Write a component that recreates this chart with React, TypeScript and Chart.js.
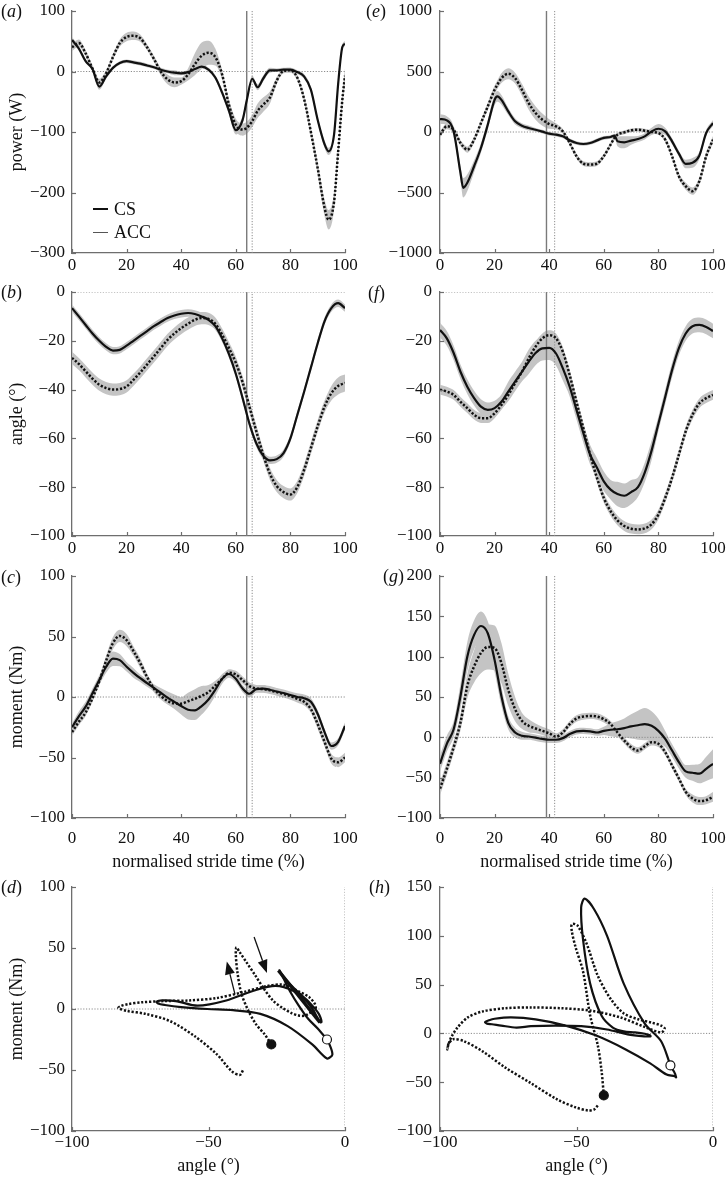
import React, { useEffect, useRef } from 'react';
import { Chart, registerables } from 'chart.js';
Chart.register(...registerables);

const FONT = "'Liberation Serif', 'Times New Roman', serif";
const BAND = '#c4c4c4';
const INK = '#111111';

// ---------- common time grid (normalised stride time, %) ----------
const T = [0,2.5,5,7.5,10,12.5,15,17.5,20,22.5,25,27.5,30,32.5,35,37.5,40,42.5,45,47.5,50,52.5,55,57.5,60,62.5,65,67.5,70,72.5,75,77.5,80,82.5,85,87.5,90,92.5,95,97.5,100];
const TIME_TICKS = [0,20,40,60,80,100];

// ---------- (a) power, left ----------
const A_X = [0,2.5,5,7.5,10,12.5,15,17.5,20,22.5,25,27.5,30,32.5,35,37.5,40,42.5,45,47.5,50,52.5,55,57.5,60,62.5,64,66,68,70,72.5,75,77.5,80,82.5,85,87.5,90,92.5,94,96,97.5,99,100];
const A_CS = [52,38,17,4,-25,-8,6,14,17,15,13,10,7,3,0,-2,-3,-1,4,8,3,-10,-35,-65,-97,-80,-48,-12,-26,-12,2,2,3,3,-1,-8,-30,-80,-120,-132,-104,-20,40,46];
const A_ACC = [40,47,30,5,-18,-3,24,47,57,59,55,40,21,0,-13,-18,-16,-5,12,26,31,24,-5,-55,-88,-96,-93,-82,-65,-55,-43,-15,1,2,-10,-45,-100,-160,-225,-245,-215,-132,-48,-7];
const A_CS_SD = [5,4,3,3,5,4,3,3,3,3,3,3,3,3,3,4,3,3,3,3,3,4,5,6,7,7,6,5,5,5,4,3,3,3,3,4,5,5,6,6,6,5,5,4];
const A_ACC_SD = [6,6,5,5,6,5,5,6,7,7,6,5,5,6,8,8,6,10,18,22,20,14,8,8,10,10,10,10,12,12,10,6,4,4,5,6,8,10,14,16,14,12,12,12];
const A_YTICKS = [-300,-200,-100,0,100];

// ---------- (b) angle, left ----------
const B_CS = [-6.6,-10,-13.5,-17,-20,-22.5,-24,-23.7,-22,-20,-18,-16,-14,-12.3,-10.7,-9.6,-8.9,-8.6,-9,-10,-11.4,-14,-19,-25.5,-33.5,-43.5,-54,-62,-67,-69,-68.5,-66,-60,-50.5,-41,-31,-21,-12,-6.6,-4.6,-6.6];
const B_ACC = [-27,-29.5,-32.5,-35.5,-38,-39.4,-40,-39.8,-38.7,-36,-33,-29.7,-26.4,-23,-19.6,-17,-14.8,-13,-11.4,-10.7,-11,-13,-17.5,-23,-29,-37,-47,-57,-66.5,-74.5,-79.5,-82,-83,-80,-73,-64,-55,-47,-41.5,-38.5,-37.3];
const B_CS_SD = [1.5,1.5,1.5,1.5,1.5,1.5,1.5,1.5,1.5,1.5,1.5,1.5,1.5,1.5,1.5,1.5,1.5,1.5,1.5,1.5,1.5,1.5,1.5,1.5,1.5,1.5,1.5,1.5,1.5,1.5,1.5,1.5,1.5,1.5,1.5,1.5,1.5,1.5,1.5,1.5,1.5];
const B_ACC_SD = [2.5,2.5,2.5,2.5,2.5,2.5,2.5,2.5,2.5,2.5,2.5,2.5,2.5,2.5,2.5,2.5,2.5,2.5,2.5,2.5,2.5,2.5,2.5,2.5,2.5,2.5,2.5,2.5,2.5,2.5,2.5,2.5,2.5,2.5,2.5,2.5,2.5,2.5,3,3.5,3.5];
const ANGLE_YTICKS = [-100,-80,-60,-40,-20,0];

// ---------- (c) moment, left ----------
const C_CS = [-25,-16,-8,3,14,25,31.7,30.5,25,20,15.5,11.5,7.5,3.5,-0.5,-4,-7.5,-10.5,-11,-7.5,-2,6,15,19,15,7,2.7,6.5,7,6,4.5,3.3,1.6,0,-1,-4,-14,-29,-40.5,-37,-24];
const C_ACC = [-29,-20.5,-12.8,-1,13,30,44.5,50.5,47,38,28,16.5,7,1,-3.3,-5.3,-5.5,-3.5,-1.5,1,4,9.5,15,20,18.6,14,9,7,6.5,5.5,4,2.5,0.8,-1.5,-4,-10,-22.4,-37,-51,-54,-50];
const C_CS_SD = [3,4,4,4,4,5,6,5,4,4,3,3,3,4,5,6,7,8,8,7,6,5,4,3,3,3,3,3,3,3,3,3,3,3,3,3,3,3,3,3,3];
const C_ACC_SD = [3,3,3,3,3,4,5,5,5,4,4,3,3,3,3,4,5,7,8,8,6,4,3,3,3,3,3,3,3,3,3,3,3,3,3,3,4,4,4,4,4];
const C_YTICKS = [-100,-50,0,50,100];

// ---------- (e) power, right ----------
const E_X = [0,2.5,5,7.5,8.5,10,12.5,15,17.5,20,21,22.5,25,27.5,30,32.5,35,37.5,40,42.5,45,47.5,50,52.5,55,57.5,60,62.5,64,65,67.5,70,72.5,75,77.5,80,82.5,85,87.5,90,92.5,95,97.5,100];
const E_CS = [107,96,5,-338,-461,-420,-283,-132,60,266,294,266,170,88,52,33,19,3,-14,-22,-36,-69,-91,-99,-91,-69,-49,-41,-30,-77,-85,-71,-58,-36,5,27,5,-77,-179,-264,-255,-195,-8,74];
const E_ACC = [-22,47,19,-91,-120,-146,-63,74,212,349,390,445,481,445,349,239,157,102,66,47,5,-91,-200,-261,-269,-261,-200,-104,-45,-22,-3,14,19,11,0,-8,-63,-200,-365,-448,-489,-407,-200,-63];
const E_CS_SD = [40,35,40,60,80,70,50,40,40,45,45,40,30,25,20,20,15,15,15,15,15,15,15,15,15,15,15,15,15,40,50,35,25,25,30,40,30,25,25,35,40,30,25,25];
const E_ACC_SD = [25,25,25,25,25,25,25,25,30,35,35,40,45,45,50,55,55,50,40,25,20,20,20,20,20,20,20,20,20,15,15,15,15,15,15,15,20,20,25,30,30,30,30,30];
const E_YTICKS = [-1000,-500,0,500,1000];

// ---------- (f) angle, right ----------
const F_CS = [-15.6,-19,-25,-32.7,-38.8,-43.5,-47,-48.3,-47.6,-45,-40.8,-36.7,-32.7,-28.6,-25,-23.1,-22.9,-25.2,-31.3,-38.8,-48.3,-57.8,-66.7,-72,-77.6,-81,-82.8,-83.5,-82,-80,-74,-65,-54,-43,-32,-23,-17,-14,-13.5,-14.3,-16];
const F_ACC = [-40,-40.8,-42.2,-45,-47.6,-50.3,-51.7,-51.7,-49.7,-46.3,-42.2,-37.4,-32.7,-27.2,-22.4,-19,-17.7,-19,-24.5,-34,-45,-55.8,-66.7,-76.2,-84.4,-89.8,-93.6,-95.9,-97,-97.3,-96.9,-95.2,-91.2,-84.4,-76.2,-66.7,-57.1,-50.3,-45.6,-43.5,-42.2];
const F_CS_SD = [3,3,3,3,3,3,3,3,3,3,4,4,4,5,5,5,5,5,5,4,4,4,4,4,4,4,5,5,5,4,4,4,3,3,3,3,3,3,3,3,3];
const F_ACC_SD = [2,2,2,2,2,2,2,2,2,2,2,2,2,2,2,2,2,2,2,2,2,2,2,2,2,2,2,2,2,2,2,2,2,2,2,2,2,2,2,2,2];

// ---------- (g) moment, right ----------
const G_CS = [-32.8,-8,10,51,100,127,138,129,96,51,18,6,2,1,-0.4,-2,-3,-3,-1,4,7.4,8,7.4,6,8,9.4,10,11.5,13.5,15,16.4,14.3,8,-2,-16.4,-30.7,-42.2,-43.9,-45,-39,-32.8];
const G_ACC = [-63.5,-39,-12.3,18.4,63.5,88,104.5,112,110.7,92,59,35,20.5,14.3,11,8,5,1,6,16.4,23.4,25.8,26.6,25.8,22.5,16.4,6,-4,-12.3,-16.4,-11,-6,-8,-18.4,-34.8,-51,-67.6,-75.8,-79,-77.9,-73.8];
const G_CS_SD = [10,10,10,15,18,18,18,15,15,12,8,6,5,4,4,4,4,4,4,4,4,4,4,4,5,8,10,12,15,18,20,18,15,10,8,8,8,10,12,15,18];
const G_ACC_SD = [8,8,8,10,15,20,25,28,28,25,20,15,10,8,6,5,5,4,4,4,4,4,4,4,4,4,4,4,4,4,4,4,4,4,4,4,4,5,5,5,6];
const G_YTICKS = [-100,-50,0,50,100,150,200];

// ---------- event lines ----------
const LEFT_EVENTS = [64, 66];   // CS (solid), ACC (dotted)
const RIGHT_EVENTS = [39, 42];

// ---------- (d) / (h) loop annotations ----------
const LOOP_XTICKS = [-100,-50,0];
const D_YTICKS = [-100,-50,0,50,100];
const H_YTICKS = [-100,-50,0,50,100,150];
const D_THICK_X = [-24.4,-9.2];
const D_THICK_Y = [31.6,-11];
const D_ARROWS = [
  { from: [-40.3, 12], to: [-43.3, 39] },
  { from: [-33.3, 59], to: [-28.6, 29.5] },
];

// ---------- helpers ----------
type XY = { x: number; y: number };
const pts = (xs: number[], ys: number[]): XY[] => xs.map((x, i) => ({ x, y: ys[i] }));
const offs = (ys: number[], sd: number[], s: number) => ys.map((v, i) => v + s * sd[i]);
const fmt = (v: any) => { const n = Number(v); return n < 0 ? '\u2212' + Math.abs(n) : String(n); };

function band(xs: number[], ys: number[], sd: number[]) {
  const base = { pointRadius: 0, borderWidth: 0, borderColor: 'rgba(0,0,0,0)', cubicInterpolationMode: 'monotone', order: 10 };
  return [
    { ...base, data: pts(xs, offs(ys, sd, -1)), fill: false },
    { ...base, data: pts(xs, offs(ys, sd, 1)), fill: '-1', backgroundColor: BAND },
  ];
}
function solid(data: XY[], loop = false) {
  return { data, borderColor: INK, borderWidth: 2.2, pointRadius: 0, fill: false, order: 1,
    ...(loop ? { tension: 0.3 } : { cubicInterpolationMode: 'monotone' }) };
}
function dotted(data: XY[], loop = false) {
  return { data, borderColor: INK, borderWidth: 2.5, borderDash: [2.2, 1.8], borderCapStyle: 'butt', pointRadius: 0, fill: false, order: 0,
    ...(loop ? { tension: 0.3 } : { cubicInterpolationMode: 'monotone' }) };
}
function refLine(data: XY[], kind: 'solid' | 'dot') {
  return kind === 'solid'
    ? { data, borderColor: '#7a7a7a', borderWidth: 1.4, pointRadius: 0, fill: false, order: 5, tension: 0 }
    : { data, borderColor: '#8c8c8c', borderWidth: 1, borderDash: [1.2, 1.6], pointRadius: 0, fill: false, order: 5, tension: 0 };
}
function marker(x: number, y: number, filled: boolean) {
  return { data: [{ x, y }], showLine: false, pointRadius: 4.5, pointBackgroundColor: filled ? INK : '#ffffff',
    pointBorderColor: INK, pointBorderWidth: 1.2, order: -1 };
}

function timeSeries(xs: number[], cs: number[], csSd: number[], acc: number[], accSd: number[], ymin: number, ymax: number, events: number[]) {
  return [
    ...band(xs, cs, csSd),
    ...band(xs, acc, accSd),
    refLine([{ x: 0, y: 0 }, { x: 100, y: 0 }], 'dot'),
    refLine([{ x: events[0], y: ymin }, { x: events[0], y: ymax }], 'solid'),
    refLine([{ x: events[1], y: ymin }, { x: events[1], y: ymax }], 'dot'),
    solid(pts(xs, cs)),
    dotted(pts(xs, acc)),
  ];
}
function loop(angCs: number[], momCs: number[], angAcc: number[], momAcc: number[], ymin: number, ymax: number, extra: any[] = []) {
  return [
    refLine([{ x: -100, y: 0 }, { x: 0, y: 0 }], 'dot'),
    refLine([{ x: 0, y: ymin }, { x: 0, y: ymax }], 'dot'),
    solid(pts(angCs, momCs), true),
    dotted(pts(angAcc, momAcc), true),
    ...extra,
    marker(angCs[0], momCs[0], false),
    marker(angAcc[0], momAcc[0], true),
  ];
}

const tickMarks = {
  id: 'tickMarks',
  afterDraw(chart: any) {
    const { ctx, chartArea } = chart;
    const xs = chart.scales.x, ys = chart.scales.y;
    ctx.save();
    ctx.strokeStyle = '#6e6e6e';
    ctx.lineWidth = 1.2;
    xs.ticks.forEach((t: any) => {
      const p = Math.round(xs.getPixelForValue(t.value)) + 0.5;
      ctx.beginPath(); ctx.moveTo(p, chartArea.bottom); ctx.lineTo(p, chartArea.bottom - 4); ctx.stroke();
    });
    ys.ticks.forEach((t: any) => {
      const p = Math.round(ys.getPixelForValue(t.value)) + 0.5;
      ctx.beginPath(); ctx.moveTo(chartArea.left, p); ctx.lineTo(chartArea.left + 4, p); ctx.stroke();
    });
    ctx.restore();
  },
};

function arrowPlugin(arrows: { from: number[]; to: number[] }[]) {
  return {
    id: 'arrows',
    afterDatasetsDraw(chart: any) {
      const { ctx } = chart;
      const xs = chart.scales.x, ys = chart.scales.y;
      ctx.save();
      ctx.strokeStyle = INK; ctx.fillStyle = INK; ctx.lineWidth = 1.3;
      arrows.forEach((a) => {
        const x0 = xs.getPixelForValue(a.from[0]), y0 = ys.getPixelForValue(a.from[1]);
        const x1 = xs.getPixelForValue(a.to[0]), y1 = ys.getPixelForValue(a.to[1]);
        const ang = Math.atan2(y1 - y0, x1 - x0);
        const L = 13, W = 5;
        const bx = x1 - L * Math.cos(ang), by = y1 - L * Math.sin(ang);
        ctx.beginPath(); ctx.moveTo(x0, y0); ctx.lineTo(bx, by); ctx.stroke();
        ctx.beginPath(); ctx.moveTo(x1, y1);
        ctx.lineTo(bx + W * Math.sin(ang), by - W * Math.cos(ang));
        ctx.lineTo(bx - W * Math.sin(ang), by + W * Math.cos(ang));
        ctx.closePath(); ctx.fill();
      });
      ctx.restore();
    },
  };
}

type Spec = {
  key: string; left: number; top: number; yAxisW: number; padTop: number; padRight: number; plotW: number; plotH: number; xAxisH: number;
  xr: number[]; yr: number[]; xticks: number[]; yticks: number[]; xPad: number; yPad: number;
  yTitle?: string; xTitle?: string; datasets: any[]; plugins?: any[];
};

function config(s: Spec): any {
  const tickFont = { family: FONT, size: 17 };
  const titleFont = { family: FONT, size: 18 };
  const grid = { display: true, drawOnChartArea: false, drawTicks: false };
  const border = { display: true, color: '#6e6e6e', width: 1.3 };
  return {
    type: 'line',
    data: { datasets: s.datasets },
    options: {
      animation: false, responsive: false, devicePixelRatio: 1, events: [],
      layout: { padding: { left: 0, top: s.padTop, right: s.padRight, bottom: 0 } },
      plugins: { legend: { display: false }, tooltip: { enabled: false } },
      scales: {
        x: {
          type: 'linear', min: s.xr[0], max: s.xr[1], grid, border,
          afterBuildTicks: (sc: any) => { sc.ticks = s.xticks.map((v) => ({ value: v })); },
          afterFit: (sc: any) => { sc.height = s.xAxisH; sc.paddingLeft = 0; sc.paddingRight = 0; },
          ticks: { font: tickFont, color: INK, padding: s.xPad, maxRotation: 0, autoSkip: false, callback: fmt },
          title: { display: !!s.xTitle, text: s.xTitle || '', font: titleFont, color: INK, padding: { top: 0, bottom: 0 } },
        },
        y: {
          type: 'linear', min: s.yr[0], max: s.yr[1], grid, border,
          afterBuildTicks: (sc: any) => { sc.ticks = s.yticks.map((v) => ({ value: v })); },
          afterFit: (sc: any) => { sc.width = s.yAxisW; sc.paddingTop = 0; sc.paddingBottom = 0; },
          ticks: { font: tickFont, color: INK, padding: s.yPad, autoSkip: false, callback: fmt },
          title: { display: !!s.yTitle, text: s.yTitle || '', font: titleFont, color: INK, padding: { top: 6, bottom: 0 } },
        },
      },
    },
    plugins: [tickMarks, ...(s.plugins || [])],
  };
}

function Panel({ s }: { s: Spec }) {
  const ref = useRef<HTMLCanvasElement>(null);
  const w = s.yAxisW + s.plotW + s.padRight;
  const h = s.padTop + s.plotH + s.xAxisH;
  useEffect(() => {
    const chart = new Chart(ref.current as HTMLCanvasElement, config(s));
    return () => chart.destroy();
  }, []);
  return <canvas ref={ref} width={w} height={h} style={{ position: 'absolute', left: s.left, top: s.top, width: w, height: h }} />;
}

const L = { left: 0, yAxisW: 72, padRight: 20, plotW: 273, yPad: 7 };
const R = { left: 360, yAxisW: 80, padRight: 14, plotW: 273, yPad: 8 };

const SPECS: Spec[] = [
  { key: 'a', ...L, top: 0, padTop: 11, plotH: 242, xAxisH: 28, xr: [0, 100], yr: [-300, 100], xticks: TIME_TICKS, yticks: A_YTICKS, xPad: 2,
    yTitle: 'power (W)', datasets: timeSeries(A_X, A_CS, A_CS_SD, A_ACC, A_ACC_SD, -300, 100, LEFT_EVENTS) },
  { key: 'b', ...L, top: 280, padTop: 12, plotH: 244, xAxisH: 28, xr: [0, 100], yr: [-100, 0], xticks: TIME_TICKS, yticks: ANGLE_YTICKS, xPad: 2,
    yTitle: 'angle (°)', datasets: timeSeries(T, B_CS, B_CS_SD, B_ACC, B_ACC_SD, -100, 0, LEFT_EVENTS) },
  { key: 'c', ...L, top: 564, padTop: 12, plotH: 242, xAxisH: 55, xr: [0, 100], yr: [-100, 100], xticks: TIME_TICKS, yticks: C_YTICKS, xPad: 10,
    yTitle: 'moment (Nm)', xTitle: 'normalised stride time (%)', datasets: timeSeries(T, C_CS, C_CS_SD, C_ACC, C_ACC_SD, -100, 100, LEFT_EVENTS) },
  { key: 'd', ...L, top: 875, padTop: 12, plotH: 244, xAxisH: 46, xr: [-100, 0], yr: [-100, 100], xticks: LOOP_XTICKS, yticks: D_YTICKS, xPad: 1,
    yTitle: 'moment (Nm)', xTitle: 'angle (°)',
    datasets: loop(B_CS, C_CS, B_ACC, C_ACC, -100, 100, [
      { data: pts(D_THICK_X, D_THICK_Y), borderColor: INK, borderWidth: 3.4, pointRadius: 0, fill: false, order: 0, tension: 0 },
    ]),
    plugins: [arrowPlugin(D_ARROWS)] },
  { key: 'e', ...R, top: 0, padTop: 11, plotH: 242, xAxisH: 28, xr: [0, 100], yr: [-1000, 1000], xticks: TIME_TICKS, yticks: E_YTICKS, xPad: 2,
    datasets: timeSeries(E_X, E_CS, E_CS_SD, E_ACC, E_ACC_SD, -1000, 1000, RIGHT_EVENTS) },
  { key: 'f', ...R, top: 280, padTop: 12, plotH: 244, xAxisH: 28, xr: [0, 100], yr: [-100, 0], xticks: TIME_TICKS, yticks: ANGLE_YTICKS, xPad: 2,
    datasets: timeSeries(T, F_CS, F_CS_SD, F_ACC, F_ACC_SD, -100, 0, RIGHT_EVENTS) },
  { key: 'g', ...R, top: 564, padTop: 12, plotH: 242, xAxisH: 55, xr: [0, 100], yr: [-100, 200], xticks: TIME_TICKS, yticks: G_YTICKS, xPad: 10,
    xTitle: 'normalised stride time (%)', datasets: timeSeries(T, G_CS, G_CS_SD, G_ACC, G_ACC_SD, -100, 200, RIGHT_EVENTS) },
  { key: 'h', ...R, top: 875, padTop: 12, plotH: 244, xAxisH: 46, xr: [-100, 0], yr: [-100, 150], xticks: LOOP_XTICKS, yticks: H_YTICKS, xPad: 1,
    xTitle: 'angle (°)', datasets: loop(F_CS, G_CS, F_ACC, G_ACC, -100, 150) },
];

const PANEL_LABELS = [
  { t: 'a', x: 1, y: 11 }, { t: 'b', x: 1, y: 292 }, { t: 'c', x: 1, y: 577 }, { t: 'd', x: 1, y: 887 },
  { t: 'e', x: 366, y: 11 }, { t: 'f', x: 368, y: 293 }, { t: 'g', x: 383, y: 576 }, { t: 'h', x: 369, y: 887 },
];
const LEGEND = [
  { label: 'CS', y: 209, color: INK, w: 2 },
  { label: 'ACC', y: 232, color: '#555', w: 1.3 },
];

export default function App() {
  return (
    <div style={{ position: 'absolute', left: 0, top: 0, width: 727, height: 1177, overflow: 'hidden', background: '#fff', fontFamily: FONT }}>
      {SPECS.map((s) => <Panel key={s.key} s={s} />)}
      {PANEL_LABELS.map((p) => (
        <div key={p.t} style={{ position: 'absolute', left: p.x, top: p.y - 11, fontSize: 18, lineHeight: '22px', color: INK, whiteSpace: 'nowrap' }}>
          (<i>{p.t}</i>)
        </div>
      ))}
      {LEGEND.map((l) => (
        <div key={l.label} style={{ position: 'absolute', left: 93, top: l.y - 11, height: 22, display: 'flex', alignItems: 'center', fontSize: 18, color: INK }}>
          <span style={{ display: 'inline-block', width: 15, height: 0, borderTop: `${l.w}px solid ${l.color}`, marginRight: 6 }} />
          <span style={{ lineHeight: '22px' }}>{l.label}</span>
        </div>
      ))}
    </div>
  );
}
